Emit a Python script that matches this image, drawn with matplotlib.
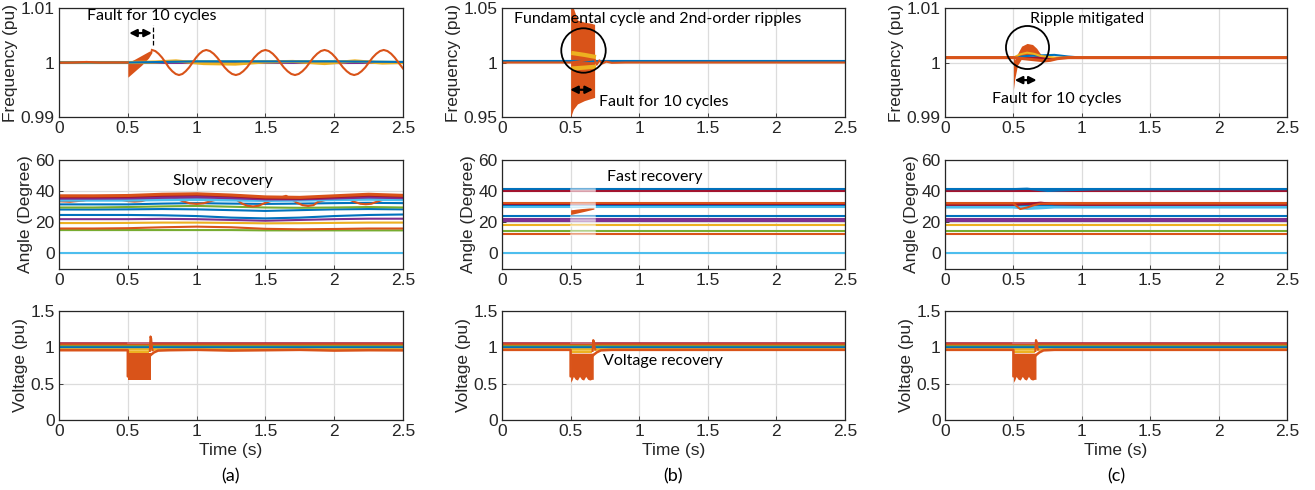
import numpy as np
import matplotlib.pyplot as plt

# MATLAB default line colours
BLUE = '#0072BD'
ORANGE = '#D95319'
YELLOW = '#EDB120'
PURPLE = '#7E2F8E'
GREEN = '#77AC30'
CYAN = '#4DBEEE'
RED = '#A2142F'

t_flat = [0, 2.5]

# ---------------- frequency, case (a) ----------------
freq_a_pre_t = [0, 0.1, 0.2, 0.3, 0.4, 0.5]
freq_a_pre = [0.99995, 0.99998, 1.0001, 0.99998, 1.0, 1.0]
freq_a_post_t = [0.675, 0.70, 0.724, 0.749, 0.774, 0.798, 0.823, 0.848, 0.872, 0.897, 0.921,
                 0.946, 0.971, 0.996, 1.02, 1.045, 1.07,
                 1.097, 1.124, 1.15, 1.177, 1.204, 1.231, 1.258, 1.285, 1.312, 1.339, 1.366,
                 1.392, 1.419, 1.446, 1.473, 1.5,
                 1.527, 1.554, 1.58, 1.607, 1.634, 1.661, 1.688, 1.715, 1.742, 1.769, 1.796,
                 1.822, 1.849, 1.876, 1.903, 1.93,
                 1.957, 1.984, 2.01, 2.037, 2.064, 2.091, 2.118, 2.145, 2.172, 2.199, 2.226,
                 2.252, 2.279, 2.306, 2.333, 2.36,
                 2.387, 2.414, 2.44, 2.467, 2.494, 2.5]
freq_a_post = [1.0023, 1.0021, 1.0016, 1.0009, 1.0, 0.9991, 0.9984, 0.9979, 0.9977, 0.9979, 0.9984,
               0.9991, 1.0, 1.0009, 1.0016, 1.0021, 1.0023,
               1.0021, 1.0016, 1.0009, 1.0, 0.9991, 0.9984, 0.9979, 0.9977, 0.9979, 0.9984, 0.9991,
               1.0, 1.0009, 1.0016, 1.0021, 1.0023,
               1.0021, 1.0016, 1.0009, 1.0, 0.9991, 0.9984, 0.9979, 0.9977, 0.9979, 0.9984, 0.9991,
               1.0, 1.0009, 1.0016, 1.0021, 1.0023,
               1.0021, 1.0016, 1.0009, 1.0, 0.9991, 0.9984, 0.9979, 0.9977, 0.9979, 0.9984, 0.9991,
               1.0, 1.0009, 1.0016, 1.0021, 1.0023,
               1.0021, 1.0016, 1.0009, 1.0, 0.9991, 0.9989]
freq_a_fault_t = [0.5, 0.55, 0.6, 0.65, 0.675]
freq_a_fault_lo = [0.9973, 0.9984, 0.9995, 1.0008, 1.0018]
freq_a_fault_hi = [1.0, 1.0006, 1.0013, 1.002, 1.0023]
freq_a_yel_t = [0, 0.5, 0.7, 0.85, 1.05, 1.28, 1.5, 1.7, 1.93, 2.15, 2.35, 2.5]
freq_a_yel = [1.0, 1.0, 1.0001, 1.0003, 0.9998, 0.9997, 1.0001, 1.0002, 0.9998, 1.0003, 0.9999, 1.0]
freq_a_blue_t = [0, 0.5, 1.0, 1.5, 2.0, 2.5]
freq_a_blue = [1.0, 1.0, 1.0002, 1.0002, 1.0002, 1.0001]
freq_a_purple = [0.99995, 0.99998, 0.9999, 0.99995, 0.9999, 0.99995]

# ---------------- frequency, case (b) ----------------
freq_b_fault_t = [0.5, 0.52, 0.55, 0.6, 0.65, 0.675]
freq_b_fault_hi = [1.05, 1.05, 1.039, 1.037, 1.036, 1.035]
freq_b_fault_lo = [0.95, 0.957, 0.962, 0.965, 0.967, 0.968]
freq_b_yel_t = [0.52, 0.6, 0.67]
freq_b_yel_hi = [1.0085, 1.007, 1.0054]
freq_b_yel_lo = [0.9946, 0.9953, 0.996]
freq_b_post_t = [0, 0.5, 0.675, 0.69, 0.71, 0.73, 0.76, 0.8, 0.9, 2.5]
freq_b_post = [1.0, 1.0, 1.003, 0.998, 1.002, 0.999, 1.0008, 0.9997, 1.0, 1.0]

# ---------------- frequency, case (c) ----------------
freq_c_base = 1.0009
freq_c_fault_t = [0.5, 0.51, 0.53, 0.56, 0.6, 0.64, 0.67, 0.7, 0.73]
freq_c_fault_hi = [1.001, 1.0005, 1.0016, 1.003, 1.0035, 1.0033, 1.0026, 1.0015, 1.001]
freq_c_fault_lo = [0.995, 0.997, 0.9995, 1.0007, 1.0012, 1.0012, 1.001, 1.0005, 1.0003]
freq_c_post_t = [0, 0.5, 0.73, 0.77, 0.82, 0.9, 2.5]
freq_c_post = [1.0009, 1.0009, 1.0003, 1.0004, 1.0007, 1.0009, 1.0009]
freq_c_blue_t = [0, 0.5, 0.6, 0.7, 0.8, 0.9, 1.0, 2.5]
freq_c_blue = [1.0009, 1.0009, 1.0012, 1.0013, 1.0014, 1.0011, 1.0009, 1.0009]
freq_c_yel_t = [0, 0.5, 0.55, 0.6, 0.65, 0.7, 0.8, 2.5]
freq_c_yel = [1.0009, 1.0009, 1.0015, 1.0018, 1.0016, 1.0012, 1.0009, 1.0009]

# ---------------- angle, case (a) ----------------
ang_a_t = [0, 0.25, 0.5, 0.75, 1.0, 1.25, 1.5, 1.75, 2.0, 2.25, 2.5]
ang_a_green = [15, 15, 15, 15, 15, 15, 14.8, 14.8, 14.8, 14.8, 14.8]
ang_a_orange_lo = [16, 16, 16.2, 16.8, 17.2, 16.8, 15.8, 15.5, 15.7, 16, 16]
ang_a_yellow = [19.5, 19.5, 19.6, 19.8, 19.8, 19.6, 19.3, 19.4, 19.6, 19.8, 19.8]
ang_a_purple = [22, 22, 22, 22.2, 22, 21.5, 21, 21.5, 22, 22.3, 22.3]
ang_a_blue1 = [24.7, 24.7, 24.7, 24.5, 24, 23, 22.5, 23, 24, 24.7, 25]
ang_a_blue2 = [28.2, 28.2, 28.3, 28.5, 28.3, 27.8, 27.3, 27.8, 28.3, 28.5, 28.3]
ang_a_green2 = [29.5, 29.5, 29.8, 30.2, 30.5, 30, 29.5, 29.3, 29.5, 29.8, 29.5]
ang_a_blue3 = [31.5, 31.5, 31.5, 32, 32.3, 32, 31.8, 32, 32.3, 32.5, 32.3]
ang_a_cyan2 = [34.2, 34.2, 34.2, 34.5, 34.6, 34.3, 34, 34.2, 34.5, 34.8, 34.5]
ang_a_purple2 = [35.5, 35.5, 35.6, 36, 36.3, 35.8, 35, 35, 35.6, 36.2, 35.8]
ang_a_red = [36.4, 36.4, 36.6, 37.4, 37.8, 37, 35.7, 35.4, 36.4, 37.4, 36.8]
ang_a_orange = [37, 37, 37.2, 38, 38.3, 37.5, 36.3, 36, 37, 38, 37.3]
ang_a_arc_t = [0, 0.08, 0.18, 0.3, 0.45, 0.5, 0.55, 0.6, 0.65, 0.8, 0.9, 0.95, 1.0, 1.05,
               1.1, 1.25, 1.33, 1.37, 1.41, 1.45, 1.5, 1.65, 1.73, 1.77, 1.81, 1.85, 1.88,
               2.05, 2.15, 2.19, 2.23, 2.27, 2.32, 2.45, 2.5]
ang_a_arc = [33.5, 33.2, 34, 36.5, 34.5, 33.6, 33.3, 33.6, 34.8, 37, 33.5, 32.2, 31.8, 32.2,
             33.5, 37, 32, 30.6, 30.2, 30.6, 32.5, 37, 32.5, 31, 30.5, 31, 33, 37, 33, 31.9,
             31.6, 31.9, 33.5, 37, 36.5]

# ---------------- angle, cases (b) and (c) ----------------
ang_levels = [41.3, 39.8, 32.1, 31.2, 30.6, 29.5, 24.0, 22.0, 21.0, 18.4, 14.1, 12.2, 0.0]
ang_colors = [BLUE, RED, ORANGE, RED, BLUE, CYAN, BLUE, PURPLE, PURPLE, YELLOW, GREEN, ORANGE, CYAN]
ang_b_faded = [41.3, 39.8, 32.1, 31.2, 30.6, 29.5, 24.0, 22.0, 21.0, 18.4, 14.1, 12.2]
ang_b_fault_t = [0.5, 0.55, 0.6, 0.67]
ang_b_fault_lo = [25, 26, 27, 28.5]
ang_b_fault_hi = [28, 28.5, 29, 30]
ang_c_or_t = [0, 0.5, 0.55, 0.6, 0.65, 0.7, 2.5]
ang_c_or = [32.1, 32.1, 28.5, 29.5, 31, 32, 32.1]
ang_c_red_t = [0, 0.5, 0.6, 0.7, 0.8, 1.0, 2.5]
ang_c_red = [31.2, 31.2, 31.8, 32.6, 31.6, 31.2, 31.2]
ang_c_blue_t = [0, 0.5, 0.6, 0.75, 0.9, 1.1, 2.5]
ang_c_blue = [41.3, 41.3, 41.6, 40.1, 40.6, 41.1, 41.3]
ang_c_cyan_t = [0, 0.5, 0.6, 0.7, 0.8, 2.5]
ang_c_cyan = [29.5, 29.5, 28.6, 29.0, 29.5, 29.5]

# ---------------- voltage ----------------
volt_levels = [1.062, 1.05, 1.04, 1.02, 1.0, 0.978]
volt_colors = [RED, PURPLE, ORANGE, GREEN, BLUE, YELLOW]
volt_low_t = [0, 0.5, 0.5, 0.67, 0.69, 0.72, 0.8, 1.0, 1.25, 1.5, 1.75, 2.0, 2.25, 2.5]
volt_low_a = [0.96, 0.96, 0.6, 0.9, 0.93, 0.955, 0.96, 0.965, 0.955, 0.96, 0.965, 0.955, 0.96, 0.958]
volt_low_bc = [0.965, 0.965, 0.6, 0.9, 0.93, 0.958, 0.965, 0.965, 0.965, 0.965, 0.965, 0.965, 0.965, 0.965]
volt_fault_t = [0.5, 0.51, 0.52, 0.535, 0.55, 0.565, 0.58, 0.595, 0.61, 0.625, 0.64, 0.655, 0.665]
volt_fault_lo_a = [0.55, 0.55, 0.55, 0.55, 0.55, 0.55, 0.55, 0.55, 0.55, 0.55, 0.55, 0.55, 0.55]
volt_fault_lo_bc = [0.52, 0.55, 0.6, 0.56, 0.55, 0.6, 0.56, 0.55, 0.6, 0.56, 0.55, 0.56, 0.56]
volt_fault_hi = 0.92
volt_yel_hi = 0.955
volt_spike_t = [0.66, 0.665, 0.67, 0.675, 0.68]
volt_spike_a = [0.95, 1.15, 1.12, 1.0, 0.96]
volt_spike_bc = [0.95, 1.1, 1.08, 1.0, 0.97]

xticks = [0, 0.5, 1, 1.5, 2, 2.5]
xticklabels = ['0', '0.5', '1', '1.5', '2', '2.5']

plt.rcParams['font.family'] = ['Liberation Sans', 'DejaVu Sans']
fig = plt.figure(figsize=(13.15, 4.9), dpi=100)
W, H = 1315.0, 490.0

col_left = [59, 502, 945]
col_width = [344, 343, 342]
row_top = [8, 160, 311]
row_h = 109

AX_COL = '#262626'
NOTE_FONT = ['Lato', 'DejaVu Sans']


def make_ax(r, c):
    ax = fig.add_axes([col_left[c] / W, 1 - (row_top[r] + row_h) / H, col_width[c] / W, row_h / H])
    ax.set_xlim(0, 2.5)
    ax.set_xticks(xticks)
    ax.set_xticklabels(xticklabels)
    ax.grid(True, color='#dcdcdc', lw=0.9)
    ax.set_axisbelow(True)
    for s in ax.spines.values():
        s.set_color(AX_COL)
        s.set_linewidth(0.9)
    ax.tick_params(direction='in', length=3, width=0.6, colors=AX_COL, labelsize=12.5, pad=3)
    return ax


def fault_arrow(ax, y, x0=0.51, x1=0.675):
    ax.annotate('', xy=(x1, y), xytext=(x0, y),
                arrowprops=dict(arrowstyle='<|-|>', color='k', lw=1.6, mutation_scale=11,
                                shrinkA=0, shrinkB=0))


def note(ax, x, y, s):
    ax.text(x, y, s, fontsize=11.5, family=NOTE_FONT, ha='left', va='center', color='k')


LW = 1.5

# ---------------- row 0: frequency ----------------
ax = make_ax(0, 0)
ax.set_ylim(0.99, 1.01)
ax.set_yticks([0.99, 1, 1.01])
ax.set_yticklabels(['0.99', '1', '1.01'])
ax.plot(t_flat, [1.0, 1.0], color=CYAN, lw=LW)
ax.plot(freq_a_blue_t, freq_a_purple, color=PURPLE, lw=LW)
ax.plot(freq_a_blue_t, freq_a_blue, color=GREEN, lw=LW)
ax.plot(freq_a_yel_t, freq_a_yel, color=YELLOW, lw=2.2)
ax.plot(freq_a_blue_t, freq_a_blue, color=BLUE, lw=LW)
ax.plot(freq_a_pre_t, freq_a_pre, color=ORANGE, lw=LW)
ax.fill_between(freq_a_fault_t, freq_a_fault_lo, freq_a_fault_hi, color=ORANGE, lw=0)
ax.plot(freq_a_post_t, freq_a_post, color=ORANGE, lw=LW)
fault_arrow(ax, 1.0054)
ax.plot([0.68, 0.68], [1.0032, 1.0068], color='k', lw=0.9, ls='--')
note(ax, 0.2, 1.0086, 'Fault for 10 cycles')
ax.set_ylabel('Frequency (pu)', fontsize=12.5, color=AX_COL, labelpad=2)

ax = make_ax(0, 1)
ax.set_ylim(0.95, 1.05)
ax.set_yticks([0.95, 1, 1.05])
ax.set_yticklabels(['0.95', '1', '1.05'])
ax.plot(t_flat, [1.001, 1.001], color=CYAN, lw=LW)
ax.plot(t_flat, [1.0018, 1.0018], color=BLUE, lw=LW)
ax.plot(freq_b_post_t, freq_b_post, color=ORANGE, lw=LW)
ax.fill_between(freq_b_fault_t, freq_b_fault_lo, freq_b_fault_hi, color=ORANGE, lw=0)
ax.plot(freq_b_yel_t, freq_b_yel_hi, color=YELLOW, lw=3)
ax.plot(freq_b_yel_t, freq_b_yel_lo, color=YELLOW, lw=3)
ax.plot([0.59], [1.0115], marker='o', ms=32, mfc='none', mec='k', mew=1.3)
fault_arrow(ax, 0.975, 0.497, 0.663)
note(ax, 0.09, 1.0398, 'Fundamental cycle and 2nd-order ripples')
note(ax, 0.704, 0.9638, 'Fault for 10 cycles')
ax.set_ylabel('Frequency (pu)', fontsize=12.5, color=AX_COL, labelpad=2)

ax = make_ax(0, 2)
ax.set_ylim(0.99, 1.01)
ax.set_yticks([0.99, 1, 1.01])
ax.set_yticklabels(['0.99', '1', '1.01'])
ax.plot(t_flat, [freq_c_base, freq_c_base], color=RED, lw=LW)
ax.plot(freq_c_blue_t, freq_c_blue, color=BLUE, lw=LW)
ax.plot(freq_c_yel_t, freq_c_yel, color=YELLOW, lw=LW)
ax.plot(freq_c_post_t, freq_c_post, color=ORANGE, lw=2.2)
ax.fill_between(freq_c_fault_t, freq_c_fault_lo, freq_c_fault_hi, color=ORANGE, lw=0)
ax.plot([0.6], [1.0028], marker='o', ms=31, mfc='none', mec='k', mew=1.3)
fault_arrow(ax, 0.99677, 0.51, 0.67)
note(ax, 0.625, 1.008, 'Ripple mitigated')
note(ax, 0.34, 0.9933, 'Fault for 10 cycles')
ax.set_ylabel('Frequency (pu)', fontsize=12.5, color=AX_COL, labelpad=2)

# ---------------- row 1: angle ----------------
for c in range(3):
    ax = make_ax(1, c)
    ax.set_ylim(-10, 60)
    ax.set_yticks([0, 20, 40, 60])
    ax.set_ylabel('Angle (Degree)', fontsize=12.5, color=AX_COL, labelpad=2)
    if c == 0:
        ax.plot(t_flat, [0, 0], color=CYAN, lw=LW)
        for vals, col in [(ang_a_green, GREEN), (ang_a_orange_lo, ORANGE), (ang_a_yellow, YELLOW),
                          (ang_a_purple, PURPLE), (ang_a_blue1, BLUE), (ang_a_blue2, BLUE),
                          (ang_a_green2, GREEN), (ang_a_blue3, BLUE)]:
            ax.plot(ang_a_t, vals, color=col, lw=LW)
        ax.plot(ang_a_arc_t, ang_a_arc, color=ORANGE, lw=LW)
        for vals, col in [(ang_a_cyan2, CYAN), (ang_a_purple2, PURPLE),
                          (ang_a_red, RED), (ang_a_orange, ORANGE)]:
            ax.plot(ang_a_t, vals, color=col, lw=2.2)
        note(ax, 0.826, 46.2, 'Slow recovery')
    else:
        for lev, col in zip(ang_levels, ang_colors):
            ax.plot(t_flat, [lev, lev], color=col, lw=LW)
        if c == 1:
            for lev in ang_b_faded:
                ax.plot([0.5, 0.67], [lev, lev], color='white', lw=1.8, alpha=0.6)
            ax.fill_between(ang_b_fault_t, ang_b_fault_lo, ang_b_fault_hi, color=ORANGE, lw=0)
            note(ax, 0.765, 49.3, 'Fast recovery')
        else:
            ax.plot(ang_c_blue_t, ang_c_blue, color=BLUE, lw=LW)
            ax.plot(ang_c_red_t, ang_c_red, color=RED, lw=LW)
            ax.plot(ang_c_cyan_t, ang_c_cyan, color=CYAN, lw=LW)
            ax.plot(ang_c_or_t, ang_c_or, color=ORANGE, lw=LW)

# ---------------- row 2: voltage ----------------
for c in range(3):
    ax = make_ax(2, c)
    ax.set_ylim(0, 1.5)
    ax.set_yticks([0, 0.5, 1, 1.5])
    ax.set_yticklabels(['0', '0.5', '1', '1.5'])
    ax.set_ylabel('Voltage (pu)', fontsize=12.5, color=AX_COL, labelpad=2)
    ax.set_xlabel('Time (s)', fontsize=12.5, color=AX_COL, labelpad=3)
    for lev, col in zip(volt_levels, volt_colors):
        ax.plot(t_flat, [lev, lev], color=col, lw=1.8)
    ax.fill_between([0.5, 0.67], [0.975, 0.975], [1.055, 1.055], color='white', lw=0)
    ax.plot([0.5, 0.67], [1.062, 1.062], color='#c9707f', lw=1.2)
    low = volt_low_a if c == 0 else volt_low_bc
    ax.plot(volt_low_t, low, color=ORANGE, lw=1.8)
    lo = volt_fault_lo_a if c == 0 else volt_fault_lo_bc
    ax.fill_between(volt_fault_t, lo, [volt_fault_hi] * len(volt_fault_t), color=ORANGE, lw=0)
    ax.fill_between([0.5, 0.655], [volt_fault_hi] * 2, [volt_yel_hi] * 2, color=YELLOW, lw=0)
    spike = volt_spike_a if c == 0 else volt_spike_bc
    ax.plot(volt_spike_t, spike, color=ORANGE, lw=1.5)
    if c == 1:
        note(ax, 0.733, 0.81, 'Voltage recovery')
    cx = (col_left[c] + col_width[c] / 2) / W
    fig.text(cx, 1 - 476 / H, '(' + 'abc'[c] + ')', fontsize=13, family=NOTE_FONT,
             ha='center', va='center')

fig.savefig('out.png', dpi=100)
